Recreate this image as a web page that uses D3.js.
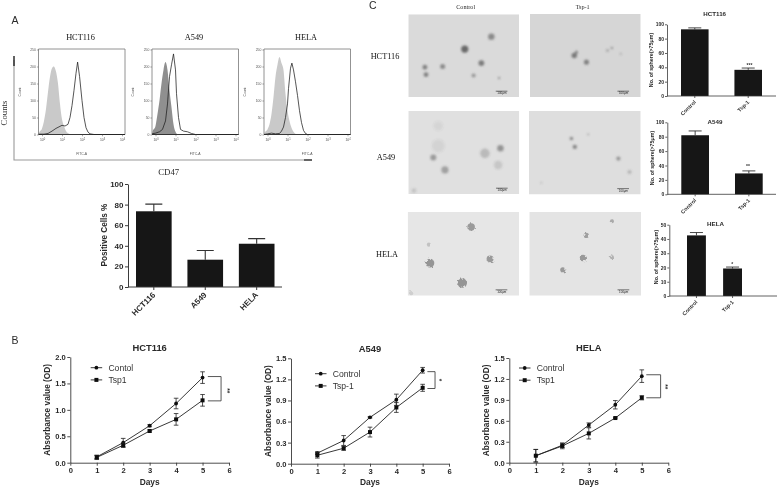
<!DOCTYPE html>
<html><head><meta charset="utf-8">
<script src="https://cdn.jsdelivr.net/npm/d3@7/dist/d3.min.js"></script>
<style>html,body{margin:0;padding:0;background:#fff}svg{display:block}</style></head>
<body><svg id="c" width="778" height="489"></svg>
<script>
// ---------- data ----------
const flowNames = ["HCT116","A549","HELA"];
const flowTicks = [0,50,100,150,200,250];
const flowDecades = [0,1,2,3,4];
const gateHCT = [[-.17,0],[-.15,5],[0,18],[.1,40],[.2,75],[.3,125],[.4,170],[.5,195],[.58,200],[.7,185],[.8,150],[.9,90],[1,45],[1.1,25],[1.2,10],[1.35,2],[1.5,0]];
const stainHCT = [[-.17,1],[.1,1],[.3,3],[.5,10],[.7,18],[.9,24],[1,27],[1.15,25],[1.3,30],[1.4,50],[1.5,85],[1.6,130],[1.7,180],[1.78,213],[1.88,170],[2,100],[2.1,50],[2.2,20],[2.3,7],[2.4,2],[2.6,0],[4.15,0]];
const gateA549 = [[-.17,0],[-.15,8],[0,25],[.1,60],[.2,100],[.3,150],[.4,190],[.5,213],[.6,190],[.7,130],[.8,80],[.9,30],[1,8],[1.1,0]];
const stainA549 = [[-.17,2],[0,4],[.2,8],[.35,15],[.5,40],[.6,90],[.7,170],[.8,205],[.9,237],[1,190],[1.05,120],[1.15,50],[1.25,15],[1.4,10],[1.6,8],[1.8,3],[2,0],[4.15,0]];
const gateHELA = [[-.17,0],[-.15,5],[0,15],[.1,30],[.2,60],[.3,110],[.4,170],[.5,205],[.6,228],[.7,210],[.8,190],[.9,120],[1,70],[1.1,40],[1.2,20],[1.3,8],[1.45,0]];
const stainHELA = [[-.17,0],[0,2],[.2,4],[.4,2],[.6,3],[.7,10],[.8,22],[.9,50],[1,90],[1.05,135],[1.15,195],[1.22,210],[1.3,190],[1.4,155],[1.5,115],[1.6,70],[1.7,35],[1.8,12],[1.9,3],[2,0],[4.15,0]];

const cd47Cats = ["HCT116","A549","HELA"];
const cd47Vals = [73.5,26.5,42];
const cd47Tops = [80.5,35.5,47];

const days = [1,2,3,4,5];
const hctCtrl = [.11,.38,.70,1.12,1.61], hctCtrlE = [.03,.08,.02,.10,.11];
const hctTsp  = [.10,.33,.60,.82,1.18], hctTspE  = [.04,.04,.02,.11,.11];
const a549Ctrl = [.15,.33,.66,.91,1.33], a549CtrlE = [.02,.07,.01,.08,.04];
const a549Tsp  = [.12,.22,.45,.80,1.08], a549TspE  = [.04,.03,.07,.07,.05];
const helaCtrl = [.10,.25,.54,.83,1.24], helaCtrlE = [.09,.03,.03,.06,.09];
const helaTsp  = [.10,.24,.42,.64,.93], helaTspE  = [.09,.04,.08,.01,.03];

const sphereCats = ["Control","Tsp-1"];
const sphHCT = [93,36.5], sphHCTTop = [95,39];
const sphA549 = [82,29], sphA549Top = [88,32.5];
const sphHELA = [42.5,19.3], sphHELATop = [44.5,20.3];

// colonies on the micrographs: [x%, y%, radius, strength]
const colHCTc = [[51,42,3,.85],[75,27,2.7,.6],[66,59,2.4,.7],[31,63,2.1,.6],[15,64,2,.65],[16,73,2,.65],[59,74,1.7,.5],[82,77,1,.5]];
const colHCTt = [[40,50,2.3,.7],[42,46,1.3,.6],[51,58,2.1,.65],[74,41,1,.5],[70,44,1,.5],[82,48,.8,.45]];
const colA549c = [[83,45,2.7,.55],[69,51,4,.28],[22.5,56,2.5,.5],[33,71,3,.45],[81,65,3.6,.18],[27,18,4,.08],[27,42,5.5,.09],[5,96,2,.2]];
const colA549t = [[38,33,1.5,.6],[41,43,1.8,.65],[53,28,.8,.45],[80,57,1.7,.55],[90,73,1.7,.3],[11,86,.6,.5]];
const colHELAc = [[57,18,2.6,.65],[19,39,1.4,.3],[20,61,3,.7],[74,56,2.4,.65],[49,85,3.2,.7],[3,97,1.5,.2]];
const colHELAt = [[51,28,1.8,.6],[74,11,1.4,.5],[48,55,2.2,.65],[74,54,1.4,.45],[30,69,1.8,.65]];

// ---------- helpers ----------
const SANS = "'Liberation Sans',Arial,sans-serif", SERIF = "'Liberation Serif','Times New Roman',serif";
const AX = "#3a3a3a", BAR = "#141414";
const svg = d3.select("#c");
const defs = svg.append("defs");
defs.append("filter").attr("id","soft").attr("x",0).attr("y",0).attr("width",1).attr("height",1)
  .append("feGaussianBlur").attr("stdDeviation",.32);
defs.append("filter").attr("id","blob").attr("x","-50%").attr("y","-50%").attr("width","200%").attr("height","200%")
  .append("feGaussianBlur").attr("stdDeviation",.85);
const rough = defs.append("filter").attr("id","rough").attr("x","-60%").attr("y","-60%").attr("width","220%").attr("height","220%");
rough.append("feTurbulence").attr("type","fractalNoise").attr("baseFrequency",.5).attr("numOctaves",2).attr("seed",4).attr("result","n");
rough.append("feDisplacementMap").attr("in","SourceGraphic").attr("in2","n").attr("scale",4).attr("result","d");
rough.append("feGaussianBlur").attr("in","d").attr("stdDeviation",.7);
const root = svg.append("g").attr("filter","url(#soft)");
root.append("rect").attr("width",778).attr("height",489).attr("fill","#fff");

function text(x,y,s,o={}){
  const t = root.append("text").attr("x",x).attr("y",y).text(s)
    .attr("font-family",o.family||SANS).attr("font-size",o.size||8)
    .attr("font-weight",o.weight||"normal").attr("fill",o.fill||"#2a2a2a")
    .attr("text-anchor",o.anchor||"middle");
  if(o.rot!==undefined) t.attr("transform",`rotate(${o.rot} ${x} ${y})`);
  return t;
}
function styleAxis(g,width,size,weight,fill){
  g.selectAll("path,line").attr("stroke",fill||AX).attr("stroke-width",width);
  g.selectAll("text").attr("font-family",SANS).attr("font-size",size).attr("font-weight",weight||"bold").attr("fill",fill||"#2a2a2a");
  g.attr("font-family",SANS);
}

// ---------- A: flow cytometry ----------
function flow(x0,idx,gate,stain,gateFill){
  const x = d3.scaleLinear().domain([-.175,4.15]).range([x0,x0+86.5]);
  const y = d3.scaleLinear().domain([0,250]).range([134.5,49.5]);
  const g = root.append("g");
  const area = d3.area().x(d=>x(d[0])).y0(y(0)).y1(d=>y(d[1])).curve(d3.curveMonotoneX);
  const line = d3.line().x(d=>x(d[0])).y(d=>y(d[1])).curve(d3.curveLinear);
  g.append("path").attr("d",area(gate)).attr("fill",gateFill);
  g.append("path").attr("d",`M${x.range()[0]},${y(0)}V${y.range()[1]-.5}H${x.range()[1]}V${y(0)}`).attr("fill","none").attr("stroke","#777").attr("stroke-width",.8);
  g.append("path").attr("d",line(stain)).attr("fill","none").attr("stroke","#1c1c1c").attr("stroke-width",.75);
  g.append("path").attr("d",`M${x.range()[0]},${y(0)}H${x.range()[1]}`).attr("stroke","#222").attr("stroke-width",.9);
  const ya = g.append("g").attr("transform",`translate(${x0},0)`)
    .call(d3.axisLeft(y).tickValues(flowTicks).tickSize(1.6).tickPadding(1).tickSizeOuter(0));
  styleAxis(ya,.5,3.4,"normal","#555"); ya.select(".domain").remove();
  const xa = g.append("g").attr("transform",`translate(0,${y(0)})`)
    .call(d3.axisBottom(x).tickValues(flowDecades).tickSize(1.8).tickPadding(2).tickFormat(""));
  styleAxis(xa,.5,3.4,"normal","#555"); xa.select(".domain").remove();
  xa.selectAll(".tick text").each(function(d){
    const t=d3.select(this); t.text("10");
    t.append("tspan").attr("dy",-1.2).attr("font-size",2.6).text(d);
  });
  text((x(0)+x(4))/2-.4,155,"FITC-A",{size:3.4,fill:"#555"});
  text(x0-18,92,"Count",{size:3.4,fill:"#555",rot:-90});
  text(x0+42,40,flowNames[idx],{family:SERIF,size:8.3,fill:"#111"});
}
flow(38.5,0,gateHCT,stainHCT,"#c9c9c9");
flow(152,1,gateA549,stainA549,"#8f8f8f");
flow(264,2,gateHELA,stainHELA,"#c9c9c9");

text(11.5,24,"A",{size:10.5,anchor:"start"});
text(7,113,"Counts",{family:SERIF,size:8.8,rot:-90});
root.append("path").attr("d","M14,60V160H312").attr("fill","none").attr("stroke","#9a9a9a").attr("stroke-width",1.1);
root.append("path").attr("d","M14,56V66").attr("stroke","#222").attr("stroke-width",1.4);
root.append("path").attr("d","M304,160H312").attr("stroke","#222").attr("stroke-width",1.2);

// ---------- A: CD47 bars ----------
(function(){
  const xp = d3.scaleBand().domain(cd47Cats).range([136,274.5]).paddingInner(.307);
  const y = d3.scaleLinear().domain([0,100]).range([287,184]);
  const g = root.append("g");
  cd47Cats.forEach((c,i)=>{
    const bx=xp(c), bw=xp.bandwidth(), cx=bx+bw/2;
    g.append("path").attr("d",`M${cx},${y(cd47Vals[i])}V${y(cd47Tops[i])}M${cx-8.5},${y(cd47Tops[i])}H${cx+8.5}`)
      .attr("stroke","#333").attr("stroke-width",1.1).attr("fill","none");
    g.append("rect").attr("x",bx).attr("y",y(cd47Vals[i])).attr("width",bw).attr("height",y(0)-y(cd47Vals[i])).attr("fill",BAR);
    text(cx+2,295.5,c,{weight:"bold",size:8,anchor:"end",rot:-45});
    g.append("line").attr("x1",cx).attr("x2",cx).attr("y1",y(0)).attr("y2",y(0)+3).attr("stroke",AX).attr("stroke-width",1);
  });
  const ya = g.append("g").attr("transform","translate(128,0)")
    .call(d3.axisLeft(y).tickValues([0,20,40,60,80,100]).tickSize(3).tickPadding(1.5).tickSizeOuter(0));
  styleAxis(ya,1,8);
  g.append("line").attr("x1",128).attr("x2",282).attr("y1",y(0)).attr("y2",y(0)).attr("stroke",AX).attr("stroke-width",1);
  text(107,235,"Positive Cells %",{weight:"bold",size:8.2,rot:-90});
  text(168.7,175,"CD47",{family:SERIF,size:8.8});
})();

// ---------- B: growth curves ----------
function growth(o){
  const x = d3.scaleLinear().domain([0,6]).range(o.xr);
  const y = d3.scaleLinear().domain([0,o.ymax]).range(o.yr);
  const g = root.append("g");
  const line = d3.line().x((d,i)=>x(days[i])).y(d=>y(d));
  [[o.c,o.ce,"c"],[o.t,o.te,"s"]].forEach(([v,e,m])=>{
    g.append("path").attr("d",line(v)).attr("fill","none").attr("stroke","#222").attr("stroke-width",.9);
    v.forEach((d,i)=>{
      const cx=x(days[i]), a=y(d-e[i]), b=y(d+e[i]);
      g.append("path").attr("d",`M${cx},${a}V${b}M${cx-2.3},${a}H${cx+2.3}M${cx-2.3},${b}H${cx+2.3}`).attr("stroke","#222").attr("stroke-width",.8).attr("fill","none");
      if(m==="c") g.append("circle").attr("cx",cx).attr("cy",y(d)).attr("r",1.9).attr("fill","#111");
      else g.append("rect").attr("x",cx-2).attr("y",y(d)-2).attr("width",4).attr("height",4).attr("fill","#111");
    });
  });
  const ya = g.append("g").attr("transform",`translate(${o.xr[0]},0)`)
    .call(d3.axisLeft(y).tickValues(o.yt).tickFormat(d3.format(".1f")).tickSize(3).tickPadding(1.5).tickSizeOuter(0));
  styleAxis(ya,.9,7.6);
  const xa = g.append("g").attr("transform",`translate(0,${o.yr[0]})`)
    .call(d3.axisBottom(x).tickValues([0,1,2,3,4,5,6]).tickFormat(d3.format("d")).tickSize(3).tickPadding(1.5).tickSizeOuter(0));
  styleAxis(xa,.9,7.6);
  // significance bracket
  g.append("path").attr("d",`M${x(o.br[0])},${y(o.br[2])}H${x(o.br[1])}V${y(o.br[3])}H${x(o.br[0])}`).attr("fill","none").attr("stroke","#444").attr("stroke-width",.9);
  text(o.sx,o.sy,o.star,{weight:"bold",size:6.5,rot:90,fill:"#333"});
  // legend
  const lx=o.lx;
  [[o.ly,"c",o.names[0]],[o.ly+12.2,"s",o.names[1]]].forEach(([ly,m,n])=>{
    g.append("line").attr("x1",lx).attr("x2",lx+11.5).attr("y1",ly).attr("y2",ly).attr("stroke","#222").attr("stroke-width",.9);
    if(m==="c") g.append("circle").attr("cx",lx+5.7).attr("cy",ly).attr("r",1.9).attr("fill","#111");
    else g.append("rect").attr("x",lx+3.7).attr("y",ly-2).attr("width",4).attr("height",4).attr("fill","#111");
    text(lx+17.7,ly+3,n,{size:8.6,anchor:"start",fill:"#333"});
  });
  text((o.xr[0]+o.xr[1])/2,o.titleY,o.title,{weight:"bold",size:9.4});
  text((o.xr[0]+o.xr[1])/2,485,"Days",{weight:"bold",size:8.4});
  text(o.xr[0]-20,(o.yr[0]+o.yr[1])/2,"Absorbance value (OD)",{weight:"bold",size:8.3,rot:-90});
}
growth({title:"HCT116",titleY:350.5,xr:[70.3,229],yr:[462.7,357],ymax:2,yt:[0,.5,1,1.5,2],c:hctCtrl,ce:hctCtrlE,t:hctTsp,te:hctTspE,
  br:[5.2,5.7,1.63,1.17],star:"**",sx:224.5,sy:390.7,lx:90.7,ly:367.7,names:["Contol","Tsp1"]});
growth({title:"A549",titleY:352,xr:[291,449],yr:[463.7,358.3],ymax:1.5,yt:[0,.3,.6,.9,1.2,1.5],c:a549Ctrl,ce:a549CtrlE,t:a549Tsp,te:a549TspE,
  br:[5.18,5.47,1.31,1.07],star:"*",sx:437,sy:380,lx:315,ly:373.7,names:["Control","Tsp-1"]});
growth({title:"HELA",titleY:350.5,xr:[509.3,668.3],yr:[462.7,358],ymax:1.5,yt:[0,.3,.6,.9,1.2,1.5],c:helaCtrl,ce:helaCtrlE,t:helaTsp,te:helaTspE,
  br:[5.17,5.71,1.26,.93],star:"**",sx:663,sy:386.7,lx:519,ly:368,names:["Control","Tsp1"]});
text(11.5,344,"B",{size:10.5,anchor:"start"});

// ---------- C: micrographs ----------
function micro(x0,y0,w,h,bg,col,flt){
  const x=d3.scaleLinear().domain([0,100]).range([x0,x0+w]);
  const y=d3.scaleLinear().domain([0,100]).range([y0,y0+h]);
  const clip="cl"+Math.round(x0)+"_"+Math.round(y0);
  defs.append("clipPath").attr("id",clip).append("rect").attr("x",x0).attr("y",y0).attr("width",w).attr("height",h);
  const g=root.append("g").attr("clip-path",`url(#${clip})`);
  g.append("rect").attr("x",x0).attr("y",y0).attr("width",w).attr("height",h).attr("fill",bg);
  const c=g.append("g").attr("filter",`url(#${flt})`);
  const grow = flt==="rough"?1.45:1.2;
  const strength = flt==="rough"?.8:1;
  col.forEach(d=>c.append("circle").attr("cx",x(d[0])).attr("cy",y(d[1])).attr("r",d[2]*grow).attr("fill","#555").attr("opacity",d[3]*strength));
  root.append("line").attr("x1",x(79)).attr("x2",x(89.5)).attr("y1",y(93)).attr("y2",y(93)).attr("stroke","#222").attr("stroke-width",.6);
  text(x(84.5),y(96.5),"100μm",{size:3,fill:"#222"});
}
micro(408.3,14.3,110.7,82.7,"#dadada",colHCTc,"blob");
micro(530,14,110.7,83,"#d6d6d6",colHCTt,"blob");
micro(408.3,111,111,83,"#e0e0e0",colA549c,"blob");
micro(529,111,111.7,83.5,"#dedede",colA549t,"blob");
micro(407.7,212,111.3,83.7,"#e6e6e6",colHELAc,"rough");
micro(529.3,212,111.7,83.7,"#e4e4e4",colHELAt,"rough");
text(369,8.5,"C",{size:10.5,anchor:"start"});
text(465.7,8.5,"Control",{family:SERIF,size:6.2});
text(582.7,8.5,"Tsp-1",{family:SERIF,size:6.2});
text(385,59,"HCT116",{family:SERIF,size:8.3,fill:"#111"});
text(386,160,"A549",{family:SERIF,size:8.3,fill:"#111"});
text(387,257,"HELA",{family:SERIF,size:8.3,fill:"#111"});

// ---------- C: sphere counts ----------
function sphere(o){
  const y=d3.scaleLinear().domain([0,o.ymax]).range(o.yr);
  const xb=d3.scaleBand().domain(sphereCats).range(o.br).paddingInner(o.pad);
  const g=root.append("g");
  sphereCats.forEach((c,i)=>{
    const bx=xb(c), bw=xb.bandwidth(), cx=bx+bw/2;
    g.append("path").attr("d",`M${cx},${y(o.v[i])}V${y(o.top[i])}M${cx-6.5},${y(o.top[i])}H${cx+6.5}`).attr("stroke","#333").attr("stroke-width",.9).attr("fill","none");
    g.append("rect").attr("x",bx).attr("y",y(o.v[i])).attr("width",bw).attr("height",y(0)-y(o.v[i])).attr("fill",BAR);
    g.append("line").attr("x1",cx).attr("x2",cx).attr("y1",y(0)).attr("y2",y(0)+2).attr("stroke",AX).attr("stroke-width",.8);
    text(cx+1.5,y(0)+6.5,c,{weight:"bold",size:5.4,anchor:"end",rot:-45,fill:"#333"});
  });
  const ya=g.append("g").attr("transform",`translate(${o.ax},0)`)
    .call(d3.axisLeft(y).tickValues(o.yt).tickSize(2).tickPadding(1).tickSizeOuter(0));
  styleAxis(ya,.8,5);
  g.append("line").attr("x1",o.ax).attr("x2",o.xend).attr("y1",y(0)).attr("y2",y(0)).attr("stroke",AX).attr("stroke-width",.8);
  text(o.tx,o.ty,o.title,{weight:"bold",size:6.2});
  text(o.lx,o.ly,"No. of sphere(>75μm)",{weight:"bold",size:5.3,rot:-90});
  text(o.sx,o.sy,o.star,{weight:"bold",size:5,fill:"#333"});
}
sphere({title:"HCT116",tx:714.7,ty:15.5,yr:[96,24.3],ymax:100,yt:[0,20,40,60,80,100],br:[681,762],pad:.484,ax:667,xend:776,v:sphHCT,top:sphHCTTop,lx:653,ly:60,sx:749.5,sy:67,star:"***"});
sphere({title:"A549",tx:715,ty:124,yr:[194.3,122.3],ymax:100,yt:[0,20,40,60,80,100],br:[681.3,762.7],pad:.484,ax:667.3,xend:776,v:sphA549,top:sphA549Top,lx:654,ly:158,sx:748,sy:168,star:"**"});
sphere({title:"HELA",tx:715.5,ty:226,yr:[296,224.7],ymax:50,yt:[0,10,20,30,40,50],br:[687,742],pad:.477,ax:669.3,xend:777,v:sphHELA,top:sphHELATop,lx:657.5,ly:257,sx:732.3,sy:266,star:"*"});
</script></body></html>
